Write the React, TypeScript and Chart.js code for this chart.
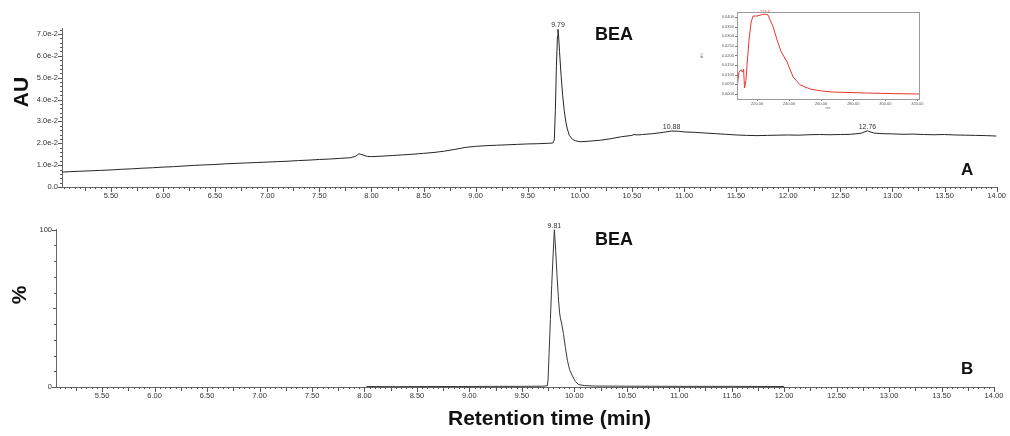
import React, { useEffect, useRef } from "react";
import { Chart, registerables } from "chart.js";

Chart.register(...registerables);

const FONT = "'Liberation Sans', Arial, Helvetica, sans-serif";

// ---- Panel A: UV chromatogram (AU) ----
const timesA = [
  5.03, 5.1, 5.2, 5.3, 5.4, 5.5, 5.6, 5.7, 5.8, 5.9,
  6.0, 6.1, 6.2, 6.3, 6.4, 6.5, 6.6, 6.7, 6.8, 6.9,
  7.0, 7.1, 7.2, 7.3, 7.4, 7.5, 7.6, 7.7, 7.8, 7.85,
  7.88, 7.92, 7.96, 8.0, 8.1, 8.2, 8.3, 8.4, 8.5, 8.6,
  8.7, 8.8, 8.9, 9.0, 9.1, 9.2, 9.3, 9.4, 9.5, 9.6,
  9.7, 9.74, 9.755, 9.765, 9.775, 9.785, 9.79, 9.795, 9.805, 9.82,
  9.835, 9.85, 9.865, 9.88, 9.9, 9.93, 9.96, 10.0, 10.05, 10.1,
  10.2, 10.3, 10.4, 10.5, 10.52, 10.55, 10.6, 10.7, 10.8, 10.88,
  10.95, 11.0, 11.1, 11.2, 11.3, 11.4, 11.5, 11.6, 11.7, 11.8,
  11.9, 12.0, 12.1, 12.2, 12.3, 12.4, 12.5, 12.6, 12.7, 12.76,
  12.82, 12.9, 13.0, 13.1, 13.2, 13.3, 13.4, 13.5, 13.6, 13.7,
  13.8, 13.9, 14.0,
];
const absA = [
  0.0068, 0.0070, 0.0072, 0.0074, 0.0076, 0.0078, 0.0081, 0.0083, 0.0086, 0.0088,
  0.0091, 0.0093, 0.0096, 0.0099, 0.0101, 0.0103, 0.0106, 0.0108, 0.0110, 0.0112,
  0.0114, 0.0116, 0.0118, 0.0121, 0.0123, 0.0126, 0.0128, 0.0131, 0.0134, 0.0141,
  0.0152, 0.0146, 0.0140, 0.0139, 0.0141, 0.0144, 0.0147, 0.0150, 0.0154, 0.0158,
  0.0164, 0.0172, 0.0181, 0.0186, 0.0189, 0.0191, 0.0193, 0.0195, 0.0197, 0.0198,
  0.0200, 0.0201, 0.0215, 0.0350, 0.0550, 0.0690, 0.0721, 0.0700, 0.0620, 0.0510,
  0.0420, 0.0350, 0.0300, 0.0265, 0.0235, 0.0218, 0.0211, 0.0207, 0.0208, 0.0210,
  0.0214, 0.0221, 0.0230, 0.0236, 0.0240, 0.0238, 0.0240, 0.0244, 0.0250, 0.0256,
  0.0255, 0.0252, 0.0250, 0.0247, 0.0244, 0.0241, 0.0238, 0.0236, 0.0235, 0.0236,
  0.0237, 0.0238, 0.0237, 0.0239, 0.0240, 0.0239, 0.0240, 0.0241, 0.0246, 0.0257,
  0.0247, 0.0244, 0.0243, 0.0241, 0.0242, 0.0240, 0.0239, 0.0240, 0.0238, 0.0237,
  0.0236, 0.0235, 0.0233,
];

// ---- Panel B: MS chromatogram (%) ----
const timesB = [
  8.02, 8.3, 8.6, 8.9, 9.2, 9.5, 9.7, 9.743, 9.75, 9.76,
  9.772, 9.785, 9.795, 9.81, 9.823, 9.836, 9.85, 9.86, 9.867, 9.88,
  9.896, 9.915, 9.934, 9.955, 9.982, 10.01, 10.04, 10.1, 10.2, 10.5,
  11.0, 11.5, 12.0,
];
const pctB = [
  0.3, 0.2, 0.3, 0.3, 0.4, 0.4, 0.5, 0.8, 5, 22,
  43, 65, 80, 100, 86, 70, 55, 47, 44, 40,
  34, 25, 17, 11, 7, 3.5, 1.5, 0.9, 0.6, 0.5,
  0.4, 0.4, 0.3,
];

// ---- Inset: UV spectrum ----
const waveNm = [
  207.5, 208.7, 210.0, 210.9, 211.6, 212.2, 213.1, 213.75, 215.0, 216.3,
  217.5, 220.0, 221.9, 225.0, 226.9, 228.1, 230.0, 232.5, 235.0, 238.75,
  242.5, 246.9, 253.1, 260.0, 267.5, 288.75, 305.0, 321.0,
];
const specAU = [
  0.0031, 0.0114, 0.0125, 0.0114, 0.0130, 0.0031, 0.0070, 0.0150, 0.0280, 0.0374,
  0.0405, 0.0405, 0.0410, 0.0415, 0.0410, 0.0385, 0.0350, 0.0280, 0.0220, 0.0166,
  0.0088, 0.0047, 0.0026, 0.0016, 0.0010, 0.0005, 0.0002, 0.0000,
];

// ---- Tick labels ----
const xTickLabels = [
  "5.50", "6.00", "6.50", "7.00", "7.50", "8.00", "8.50", "9.00", "9.50",
  "10.00", "10.50", "11.00", "11.50", "12.00", "12.50", "13.00", "13.50", "14.00",
];
const yTickLabelsA = ["0.0", "1.0e-2", "2.0e-2", "3.0e-2", "4.0e-2", "5.0e-2", "6.0e-2", "7.0e-2"];
const yTickValuesA = [0, 0.01, 0.02, 0.03, 0.04, 0.05, 0.06, 0.07];
const yTickLabelsB = ["0", "100"];
const yTickValuesB = [0, 100];
const insetXLabels = ["220.00", "240.00", "260.00", "280.00", "300.00", "320.00"];
const insetYLabels = ["0.0000", "0.0050", "0.0100", "0.0150", "0.0200", "0.0250", "0.0300", "0.0350", "0.0400"];

// ---- Peak annotations ----
const peakTimesA = [9.79, 10.88, 12.76];
const peakTextA = ["9.79", "10.88", "12.76"];
const peakTimesB = [9.81];
const peakTextB = ["9.81"];
const peakTimesInset = [225.0];
const peakTextInset = ["224.6"];

function peakValue(times: number[], vals: number[], t: number) {
  let best = -Infinity;
  let bestD = Infinity;
  for (let i = 0; i < times.length; i++) {
    const d = Math.abs(times[i] - t);
    if (d < bestD) { bestD = d; best = vals[i]; }
  }
  return best;
}

const tickMarks = {
  id: "tickMarks",
  afterDraw(chart: any, _a: any, opts: any) {
    if (!opts || !opts.sets) return;
    const ctx = chart.ctx;
    ctx.save();
    ctx.strokeStyle = opts.color || "#555";
    ctx.lineWidth = 1;
    ctx.beginPath();
    for (const s of opts.sets) {
      const scale = chart.scales[s.axis];
      const n0 = Math.ceil(scale.min / s.step - 1e-6);
      const n1 = Math.floor(scale.max / s.step + 1e-6);
      for (let i = n0; i <= n1; i++) {
        const v = i * s.step;
        let len = s.minorLen;
        if (s.majorEvery && i % s.majorEvery === 0) len = s.majorLen;
        else if (s.midEvery && i % s.midEvery === 0) len = s.midLen;
        const p = Math.round(scale.getPixelForValue(v)) + 0.5;
        if (scale.isHorizontal()) {
          const y0 = Math.round(chart.chartArea.bottom);
          ctx.moveTo(p, y0);
          ctx.lineTo(p, y0 + len);
        } else {
          const x0 = Math.round(chart.chartArea.left);
          ctx.moveTo(x0, p);
          ctx.lineTo(x0 - len, p);
        }
      }
    }
    ctx.stroke();
    ctx.restore();
  },
};

const peakTags = {
  id: "peakTags",
  afterDatasetsDraw(chart: any, _a: any, opts: any) {
    if (!opts || !opts.items) return;
    const ctx = chart.ctx;
    ctx.save();
    ctx.font = `${opts.size}px ${FONT}`;
    ctx.fillStyle = opts.color;
    ctx.textAlign = "center";
    ctx.textBaseline = "alphabetic";
    for (const it of opts.items) {
      const x = chart.scales.x.getPixelForValue(it.x);
      const y = chart.scales.y.getPixelForValue(it.y);
      ctx.fillText(it.text, x, y - opts.gap);
    }
    ctx.restore();
  },
};

const frameBox = {
  id: "frameBox",
  afterDraw(chart: any, _a: any, opts: any) {
    if (!opts || !opts.color) return;
    const ca = chart.chartArea;
    const ctx = chart.ctx;
    ctx.save();
    ctx.strokeStyle = opts.color;
    ctx.lineWidth = 1;
    ctx.strokeRect(Math.round(ca.left) + 0.5, Math.round(ca.top) + 0.5, Math.round(ca.right - ca.left), Math.round(ca.bottom - ca.top));
    ctx.restore();
  },
};

Chart.register(tickMarks, peakTags, frameBox);

function xScale(min: number, height: number) {
  return {
    type: "linear",
    min,
    max: 14,
    grid: { display: false, drawTicks: false },
    border: { display: true, color: "#666", width: 1 },
    afterBuildTicks: (s: any) => {
      s.ticks = xTickLabels.map((l) => ({ value: parseFloat(l) }));
    },
    afterFit: (s: any) => {
      s.height = height;
    },
    ticks: {
      autoSkip: false,
      maxRotation: 0,
      padding: 4,
      color: "#333",
      font: { size: 7.5, family: FONT },
      callback: (_v: any, i: number) => xTickLabels[i],
    },
  };
}

function makeA(canvas: HTMLCanvasElement) {
  return new Chart(canvas, {
    type: "line",
    data: {
      datasets: [
        {
          data: timesA.map((t, i) => ({ x: t, y: absA[i] })),
          borderColor: "#262626",
          borderWidth: 1,
          pointRadius: 0,
          tension: 0,
          fill: false,
        },
      ],
    },
    options: {
      responsive: false,
      animation: false,
      events: [],
      layout: { padding: { top: 28.5, right: 12, left: 0, bottom: 0 } },
      plugins: {
        legend: { display: false },
        tooltip: { enabled: false },
        tickMarks: {
          color: "#555",
          sets: [
            { axis: "x", step: 0.05, minorLen: 2, midEvery: 5, midLen: 4, majorEvery: 10, majorLen: 5 },
            { axis: "y", step: 0.002, minorLen: 2, majorEvery: 5, majorLen: 4 },
          ],
        },
        peakTags: {
          size: 7,
          color: "#333",
          gap: 2,
          items: peakTimesA.map((t, i) => ({ x: t, y: peakValue(timesA, absA, t), text: peakTextA[i] })),
        },
      },
      scales: {
        x: xScale(5.03, 18),
        y: {
          type: "linear",
          min: 0,
          max: 0.0725,
          grid: { display: false, drawTicks: false },
          border: { display: true, color: "#666", width: 1 },
          afterBuildTicks: (s: any) => {
            s.ticks = yTickValuesA.map((v) => ({ value: v }));
          },
          afterFit: (s: any) => {
            s.width = 62;
          },
          ticks: {
            autoSkip: false,
            padding: 4,
            color: "#333",
            font: { size: 7.5, family: FONT },
            callback: (_v: any, i: number) => yTickLabelsA[i],
          },
        },
      },
    } as any,
  });
}

function makeB(canvas: HTMLCanvasElement) {
  return new Chart(canvas, {
    type: "line",
    data: {
      datasets: [
        {
          data: timesB.map((t, i) => ({ x: t, y: pctB[i] })),
          borderColor: "#383838",
          borderWidth: 1,
          pointRadius: 0,
          tension: 0,
          fill: false,
        },
      ],
    },
    options: {
      responsive: false,
      animation: false,
      events: [],
      layout: { padding: { top: 24.5, right: 16, left: 0, bottom: 0 } },
      plugins: {
        legend: { display: false },
        tooltip: { enabled: false },
        tickMarks: {
          color: "#555",
          sets: [
            { axis: "x", step: 0.05, minorLen: 2, midEvery: 5, midLen: 4, majorEvery: 10, majorLen: 5 },
            { axis: "y", step: 10, minorLen: 2, midEvery: 5, midLen: 3, majorEvery: 10, majorLen: 4 },
          ],
        },
        peakTags: {
          size: 7,
          color: "#333",
          gap: 2,
          items: peakTimesB.map((t, i) => ({ x: t, y: peakValue(timesB, pctB, t), text: peakTextB[i] })),
        },
      },
      scales: {
        x: xScale(5.06, 49),
        y: {
          type: "linear",
          min: 0,
          max: 100,
          grid: { display: false, drawTicks: false },
          border: { display: true, color: "#666", width: 1 },
          afterBuildTicks: (s: any) => {
            s.ticks = yTickValuesB.map((v) => ({ value: v }));
          },
          afterFit: (s: any) => {
            s.width = 56;
          },
          ticks: {
            autoSkip: false,
            padding: 4,
            color: "#333",
            font: { size: 7.5, family: FONT },
            callback: (_v: any, i: number) => yTickLabelsB[i],
          },
        },
      },
    } as any,
  });
}

function makeInset(canvas: HTMLCanvasElement) {
  return new Chart(canvas, {
    type: "line",
    data: {
      datasets: [
        {
          data: waveNm.map((w, i) => ({ x: w, y: specAU[i] })),
          borderColor: "#e8352f",
          borderWidth: 1,
          pointRadius: 0,
          tension: 0,
          fill: false,
        },
      ],
    },
    options: {
      responsive: false,
      animation: false,
      events: [],
      layout: { padding: { top: 12, right: 21, left: 0, bottom: 0 } },
      plugins: {
        legend: { display: false },
        tooltip: { enabled: false },
        frameBox: { color: "#9a9a9a" },
        tickMarks: {
          color: "#777",
          sets: [
            { axis: "x", step: 20, minorLen: 2 },
            { axis: "y", step: 0.005, minorLen: 2 },
          ],
        },
        peakTags: {
          size: 4,
          color: "#e8352f",
          gap: 1,
          items: peakTimesInset.map((t, i) => ({ x: t, y: peakValue(waveNm, specAU, t), text: peakTextInset[i] })),
        },
      },
      scales: {
        x: {
          type: "linear",
          min: 207.5,
          max: 321,
          grid: { display: false, drawTicks: false },
          border: { display: false },
          title: { display: true, text: "nm", color: "#666", font: { size: 3.5, family: FONT }, padding: 0 },
          afterBuildTicks: (s: any) => {
            s.ticks = insetXLabels.map((l) => ({ value: parseFloat(l) }));
          },
          afterFit: (s: any) => {
            s.height = 11;
          },
          ticks: {
            autoSkip: false,
            maxRotation: 0,
            padding: 2,
            color: "#555",
            font: { size: 4, family: FONT },
            callback: (_v: any, i: number) => insetXLabels[i],
          },
        },
        y: {
          type: "linear",
          min: -0.0026,
          max: 0.0426,
          grid: { display: false, drawTicks: false },
          border: { display: false },
          title: { display: true, text: "AU", color: "#666", font: { size: 3.5, family: FONT }, padding: 0 },
          afterBuildTicks: (s: any) => {
            s.ticks = insetYLabels.map((l) => ({ value: parseFloat(l) }));
          },
          afterFit: (s: any) => {
            s.width = 37;
          },
          ticks: {
            autoSkip: false,
            padding: 3,
            color: "#555",
            font: { size: 4, family: FONT },
            callback: (_v: any, i: number) => insetYLabels[i],
          },
        },
      },
    } as any,
  });
}

function Label(props: { text: string; left: number; top: number; size: number }) {
  return (
    <div
      style={{
        position: "absolute",
        left: props.left,
        top: props.top,
        fontFamily: FONT,
        fontWeight: "bold",
        fontSize: props.size,
        lineHeight: `${props.size}px`,
        color: "#111",
        whiteSpace: "nowrap",
      }}
    >
      {props.text}
    </div>
  );
}

function VLabel(props: { text: string; cx: number; cy: number; size: number }) {
  return (
    <div
      style={{
        position: "absolute",
        left: props.cx,
        top: props.cy,
        transform: "translate(-50%, -50%) rotate(-90deg)",
        fontFamily: FONT,
        fontWeight: "bold",
        fontSize: props.size,
        lineHeight: `${props.size}px`,
        color: "#111",
        whiteSpace: "nowrap",
      }}
    >
      {props.text}
    </div>
  );
}

export default function App() {
  const refA = useRef<HTMLCanvasElement>(null);
  const refB = useRef<HTMLCanvasElement>(null);
  const refI = useRef<HTMLCanvasElement>(null);

  useEffect(() => {
    const charts = [makeA(refA.current!), makeB(refB.current!), makeInset(refI.current!)];
    return () => charts.forEach((c) => c.destroy());
  }, []);

  return (
    <div
      style={{
        position: "absolute",
        left: 0,
        top: 0,
        width: 1010,
        height: 436,
        background: "#fff",
        overflow: "hidden",
      }}
    >
      <canvas ref={refA} width={1010} height={205} style={{ position: "absolute", left: 0, top: 0 }} />
      <canvas ref={refB} width={1010} height={231} style={{ position: "absolute", left: 0, top: 205 }} />
      <canvas ref={refI} width={240} height={110} style={{ position: "absolute", left: 700, top: 0 }} />
      <VLabel text="AU" cx={19.8} cy={92} size={21} />
      <VLabel text="%" cx={17.8} cy={295} size={21} />
      <Label text="BEA" left={595} top={24.6} size={18} />
      <Label text="BEA" left={595} top={229.6} size={18} />
      <Label text="A" left={961} top={160.8} size={17} />
      <Label text="B" left={961} top={360.3} size={17} />
      <Label text="Retention time (min)" left={448} top={407.3} size={21} />
    </div>
  );
}
